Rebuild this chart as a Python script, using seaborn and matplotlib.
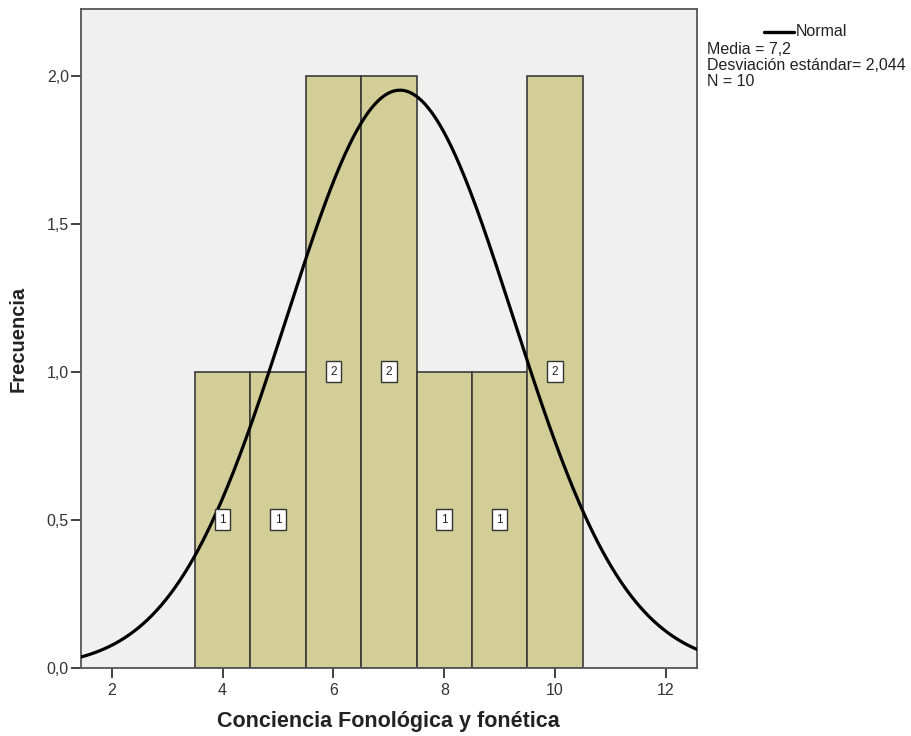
import numpy as np
import pandas as pd
import matplotlib
matplotlib.use("Agg")
import matplotlib.pyplot as plt
import seaborn as sns

# Puntajes por estudiante (N = 10)
scores = [4, 5, 6, 6, 7, 7, 8, 9, 10, 10]
bin_centers = [4, 5, 6, 7, 8, 9, 10]
x_ticks = [2, 4, 6, 8, 10, 12]
y_ticks = [0.0, 0.5, 1.0, 1.5, 2.0]

sns.set_theme(style="white")
plt.rcParams["font.family"] = ["Liberation Sans", "DejaVu Sans"]

df = pd.DataFrame({"puntaje": scores})
n = len(scores)
mean = float(np.mean(scores))
sd = float(np.std(scores, ddof=1))

W, H = 911, 736
fig = plt.figure(figsize=(W / 100, H / 100), dpi=100)
ax = fig.add_axes([80.7 / W, 1 - 668 / H, (697 - 80.7) / W, (668 - 9.3) / H])
ax.set_facecolor("#f0f0f0")

sns.histplot(data=df, x="puntaje", discrete=True, stat="count",
             color="#d3ce97", alpha=1.0, edgecolor="#3a3a3a", linewidth=1.2, ax=ax)

# Etiquetas de frecuencia dentro de cada barra
counts = df["puntaje"].value_counts().reindex(bin_centers, fill_value=0)
for c, k in counts.items():
    if k > 0:
        ax.text(c, k / 2, f"{k}", ha="center", va="center", fontsize=8.5, color="#222222",
                bbox=dict(boxstyle="square,pad=0.38", facecolor="white",
                          edgecolor="#333333", linewidth=1.0), zorder=5)

# Curva normal ajustada
xlim = (1.44, 12.56)
xs = np.linspace(xlim[0], xlim[1], 400)
ys = n * 1.0 / (sd * np.sqrt(2 * np.pi)) * np.exp(-0.5 * ((xs - mean) / sd) ** 2)
sns.lineplot(x=xs, y=ys, color="black", linewidth=2.3, ax=ax, zorder=4)

ax.set_xlim(*xlim)
ax.set_ylim(0, 2.225)
ax.set_xticks(x_ticks)
ax.set_xticklabels([str(t) for t in x_ticks])
ax.set_yticks(y_ticks)
ax.set_yticklabels([f"{t:.1f}".replace(".", ",") for t in y_ticks])
ax.tick_params(axis="both", direction="out", length=7, width=1.3, color="#333333",
               labelsize=11.5, labelcolor="#333333", bottom=True, left=True)
ax.tick_params(axis="x", pad=3.5)
ax.tick_params(axis="y", pad=1.5)
for s in ax.spines.values():
    s.set_visible(True)
    s.set_color("#555555")
    s.set_linewidth(1.3)

ax.set_xlabel("Conciencia Fonológica y fonética", fontsize=15.5, fontweight="bold",
              color="#222222", labelpad=10)
ax.set_ylabel("Frecuencia", fontsize=14.5, fontweight="bold", color="#222222", labelpad=14)

# Leyenda con estadísticos
fig.add_artist(plt.Line2D([764 / W, 794 / W], [1 - 32 / H, 1 - 32 / H],
                          color="black", linewidth=2.4))
fig.text(796 / W, 1 - 32 / H, "Normal", fontsize=11.5, va="center", ha="left", color="#222222")
stats = [f"Media = {mean:.1f}".replace(".", ","),
         f"Desviación estándar= {sd:.3f}".replace(".", ","),
         f"N = {n}"]
for i, line in enumerate(stats):
    fig.text(707 / W, 1 - (49 + 16.3 * i) / H, line, fontsize=11.5, va="center",
             ha="left", color="#222222")

fig.savefig("out.png", dpi=100, facecolor="white")
